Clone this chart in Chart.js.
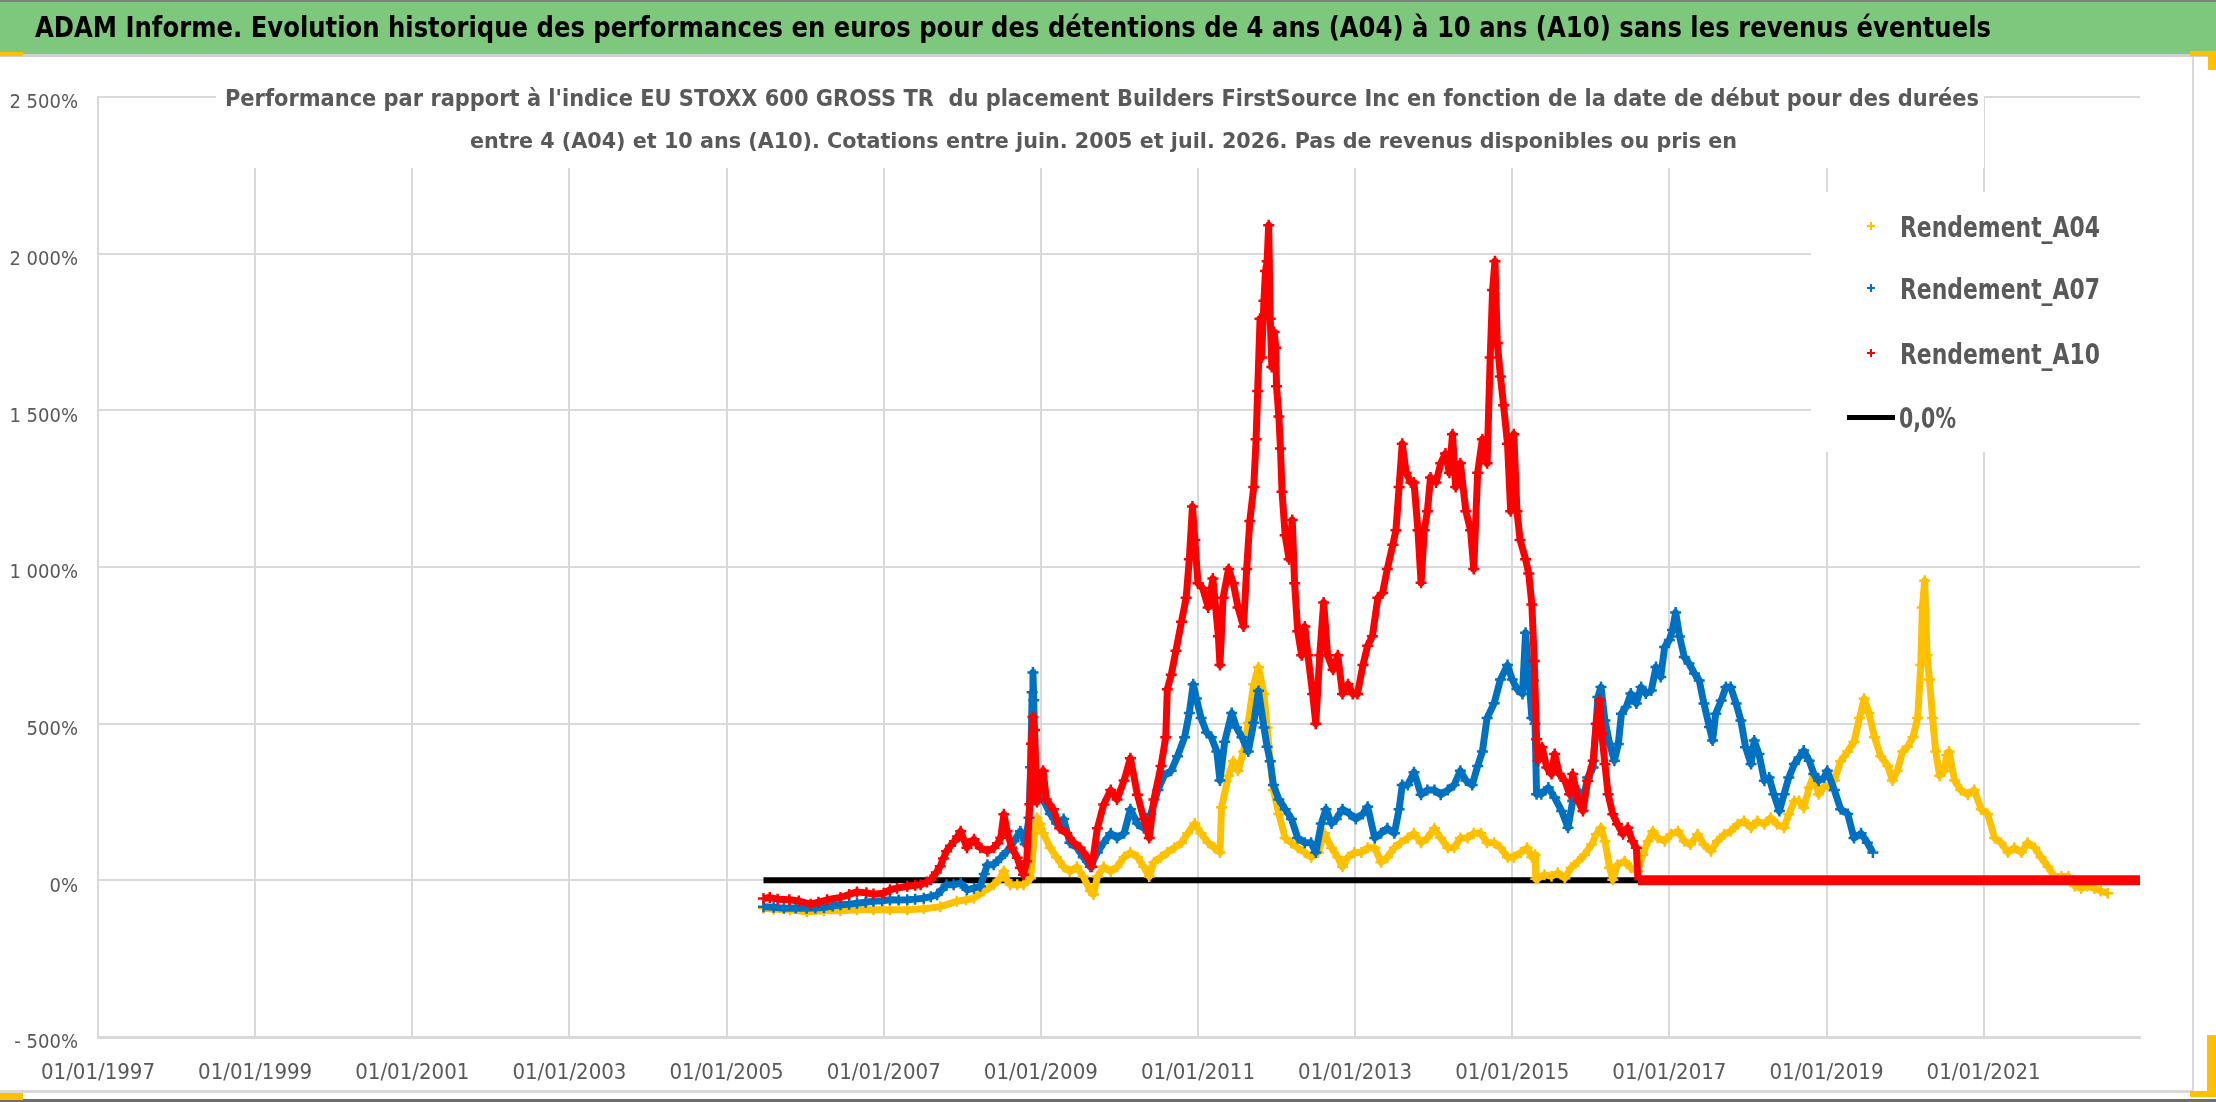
<!DOCTYPE html>
<html lang="fr">
<head>
<meta charset="UTF-8">
<title>ADAM Informe - Builders FirstSource Inc</title>
<script src="https://cdn.jsdelivr.net/npm/chart.js"></script>
<style>
  html, body { margin: 0; padding: 0; background: #fff; }
  .wrap { width: 2216px; height: 1102px; }
</style>
</head>
<body>
<div class="wrap"><canvas id="perfChart" width="2216" height="1102"></canvas></div>

<script>
  const titleText = "ADAM Informe. Evolution historique des performances en euros pour des détentions de 4 ans (A04) à 10 ans (A10) sans les revenus éventuels";
  const subtitleLines = [
    "Performance par rapport à l'indice EU STOXX 600 GROSS TR  du placement Builders FirstSource Inc en fonction de la date de début pour des durées",
    "entre 4 (A04) et 10 ans (A10). Cotations entre juin. 2005 et juil. 2026. Pas de revenus disponibles ou pris en"
  ];
  const seriesNames = ['Rendement_A04', 'Rendement_A07', 'Rendement_A10', '0,0%'];

  // x axis : date de début (années décimales), ticks tous les 2 ans
  const xTickYears = [1997, 1999, 2001, 2003, 2005, 2007, 2009, 2011, 2013, 2015, 2017, 2019, 2021];
  const xTickLabels = ['01/01/1997', '01/01/1999', '01/01/2001', '01/01/2003', '01/01/2005', '01/01/2007',
    '01/01/2009', '01/01/2011', '01/01/2013', '01/01/2015', '01/01/2017', '01/01/2019', '01/01/2021'];
  const yTickValues = [-500, 0, 500, 1000, 1500, 2000, 2500];
  const yTickLabels = ['- 500%', '0%', '500%', '1 000%', '1 500%', '2 000%', '2 500%'];

  // [date de début, performance %]
  const a04 = [[2005.47,-89],[2005.6,-92],[2005.81,-94],[2006.02,-100],[2006.24,-97],[2006.45,-97],[2006.66,-94],[2006.87,-94],
    [2007.08,-94],[2007.3,-94],[2007.51,-91],[2007.72,-84],[2007.93,-67],[2008.05,-62],[2008.15,-57],[2008.27,-35],[2008.4,-14],
    [2008.48,5],[2008.53,30],[2008.57,0],[2008.61,-14],[2008.7,-14],[2008.78,-14],[2008.87,7],[2008.92,150],[2008.95,200],
    [2008.99,180],[2009.03,150],[2009.12,104],[2009.2,74],[2009.29,43],[2009.37,28],[2009.46,43],[2009.54,12],[2009.63,-34],
    [2009.67,-45],[2009.72,12],[2009.8,43],[2009.89,28],[2009.97,43],[2010.06,74],[2010.14,89],[2010.23,74],[2010.31,43],
    [2010.38,12],[2010.44,58],[2010.53,74],[2010.61,89],[2010.7,104],[2010.79,120],[2010.87,150],[2010.96,181],[2011.04,150],
    [2011.13,120],[2011.21,104],[2011.28,89],[2011.3,233],[2011.39,334],[2011.45,380],[2011.51,350],[2011.58,411],[2011.64,503],
    [2011.71,626],[2011.77,680],[2011.84,595],[2011.88,488],[2011.92,380],[2011.96,288],[2012.03,212],[2012.11,135],[2012.19,120],
    [2012.27,104],[2012.36,89],[2012.44,74],[2012.53,89],[2012.61,150],[2012.7,104],[2012.78,74],[2012.84,43],[2012.91,74],
    [2012.99,89],[2013.08,89],[2013.16,104],[2013.25,104],[2013.33,58],[2013.41,74],[2013.5,104],[2013.58,120],[2013.67,135],
    [2013.75,150],[2013.84,120],[2013.92,135],[2014.01,166],[2014.09,135],[2014.18,104],[2014.26,104],[2014.34,135],[2014.43,135],
    [2014.51,150],[2014.6,150],[2014.68,120],[2014.77,120],[2014.85,104],[2014.94,74],[2015.02,74],[2015.11,89],[2015.19,104],
    [2015.25,74],[2015.29,82],[2015.3,5],[2015.33,7],[2015.41,18],[2015.5,13],[2015.58,24],[2015.67,7],[2015.75,40],[2015.84,61],
    [2015.92,82],[2016.01,114],[2016.07,147],[2016.13,168],[2016.18,125],[2016.24,40],[2016.28,2],[2016.34,50],[2016.43,61],
    [2016.51,40],[2016.6,29],[2016.66,82],[2016.73,125],[2016.79,157],[2016.85,136],[2016.94,125],[2017.02,147],[2017.11,157],
    [2017.19,125],[2017.27,114],[2017.36,147],[2017.44,114],[2017.53,93],[2017.61,125],[2017.7,147],[2017.78,157],[2017.87,179],
    [2017.95,189],[2018.04,168],[2018.12,189],[2018.21,179],[2018.29,200],[2018.37,179],[2018.46,168],[2018.52,211],[2018.59,253],
    [2018.65,253],[2018.71,232],[2018.78,296],[2018.84,339],[2018.9,275],[2018.97,300],[2019.03,300],[2019.1,319],[2019.18,380],
    [2019.27,411],[2019.35,442],[2019.42,518],[2019.48,580],[2019.54,534],[2019.61,457],[2019.69,396],[2019.78,365],[2019.84,319],
    [2019.9,350],[2019.97,411],[2020.03,426],[2020.1,457],[2020.16,518],[2020.2,687],[2020.22,871],[2020.25,956],[2020.28,718],
    [2020.31,641],[2020.35,518],[2020.39,411],[2020.44,334],[2020.5,350],[2020.53,400],[2020.56,411],[2020.63,319],[2020.71,288],
    [2020.8,273],[2020.88,288],[2020.97,227],[2021.05,212],[2021.14,135],[2021.22,120],[2021.31,89],[2021.39,104],[2021.48,89],
    [2021.56,120],[2021.65,104],[2021.73,74],[2021.82,43],[2021.9,12],[2021.99,12],[2022.08,12],[2022.16,-18],[2022.24,-26],
    [2022.32,-18],[2022.41,-26],[2022.49,-34],[2022.58,-41]];

  const a07 = [[2005.47,-84],[2005.6,-86],[2005.73,-89],[2005.88,-88],[2006.02,-89],[2006.13,-88],[2006.24,-87],[2006.35,-82],
    [2006.45,-78],[2006.56,-76],[2006.66,-73],[2006.77,-70],[2006.87,-67],[2006.98,-65],[2007.08,-62],[2007.19,-63],[2007.3,-62],
    [2007.4,-60],[2007.51,-57],[2007.6,-52],[2007.68,-46],[2007.74,-30],[2007.8,-14],[2007.89,-14],[2007.98,-9],[2008.06,-30],
    [2008.15,-25],[2008.23,-19],[2008.28,20],[2008.32,50],[2008.4,50],[2008.49,72],[2008.57,93],[2008.66,125],[2008.74,157],
    [2008.8,115],[2008.85,200],[2008.87,361],[2008.89,600],[2008.9,663],[2008.91,575],[2008.93,350],[2008.97,288],[2009.03,258],
    [2009.12,212],[2009.2,181],[2009.29,196],[2009.37,120],[2009.46,104],[2009.54,74],[2009.63,43],[2009.72,89],[2009.8,120],
    [2009.89,150],[2009.97,135],[2010.06,150],[2010.14,227],[2010.23,181],[2010.31,166],[2010.4,212],[2010.49,288],[2010.57,334],
    [2010.66,350],[2010.74,396],[2010.83,457],[2010.89,534],[2010.94,626],[2010.98,580],[2011.04,518],[2011.11,472],[2011.17,457],
    [2011.24,411],[2011.28,319],[2011.34,442],[2011.43,534],[2011.49,488],[2011.56,457],[2011.64,411],[2011.71,503],[2011.77,605],
    [2011.84,488],[2011.88,426],[2011.92,380],[2011.96,304],[2012.03,258],[2012.11,227],[2012.19,196],[2012.27,135],[2012.36,120],
    [2012.44,120],[2012.5,89],[2012.57,181],[2012.63,227],[2012.7,181],[2012.76,196],[2012.84,227],[2012.93,212],[2013.01,196],
    [2013.1,212],[2013.16,235],[2013.25,135],[2013.33,150],[2013.41,166],[2013.5,150],[2013.56,227],[2013.6,304],[2013.67,304],
    [2013.75,345],[2013.84,273],[2013.92,288],[2014.01,288],[2014.09,273],[2014.18,288],[2014.26,304],[2014.34,350],[2014.41,319],
    [2014.49,304],[2014.56,365],[2014.62,411],[2014.68,518],[2014.77,565],[2014.85,641],[2014.94,687],[2015.0,641],[2015.06,611],
    [2015.13,595],[2015.17,790],[2015.21,656],[2015.25,518],[2015.27,638],[2015.29,500],[2015.31,275],[2015.37,275],[2015.46,296],
    [2015.54,264],[2015.63,221],[2015.71,168],[2015.77,253],[2015.84,286],[2015.9,253],[2015.96,328],[2016.03,360],[2016.09,585],
    [2016.13,617],[2016.18,510],[2016.24,435],[2016.3,382],[2016.35,435],[2016.39,532],[2016.45,553],[2016.51,596],[2016.58,564],
    [2016.64,617],[2016.7,596],[2016.77,606],[2016.83,681],[2016.89,649],[2016.94,745],[2017.0,767],[2017.04,799],[2017.08,855],
    [2017.13,778],[2017.19,713],[2017.25,692],[2017.32,660],[2017.38,638],[2017.44,564],[2017.51,489],[2017.55,446],[2017.59,532],
    [2017.66,574],[2017.72,617],[2017.78,617],[2017.85,564],[2017.91,510],[2017.97,425],[2018.04,371],[2018.08,446],[2018.14,403],
    [2018.21,318],[2018.27,328],[2018.33,275],[2018.4,221],[2018.46,275],[2018.52,328],[2018.59,371],[2018.65,392],[2018.71,414],
    [2018.78,382],[2018.84,339],[2018.9,318],[2018.97,328],[2019.01,350],[2019.1,288],[2019.18,227],[2019.27,212],[2019.35,135],
    [2019.44,150],[2019.52,120],[2019.59,89]];

  const a10 = [[2005.47,-58],[2005.55,-55],[2005.65,-60],[2005.8,-62],[2005.92,-66],[2006.07,-76],[2006.17,-70],[2006.28,-62],
    [2006.45,-55],[2006.56,-45],[2006.66,-37],[2006.78,-40],[2006.87,-44],[2007.0,-41],[2007.08,-30],[2007.17,-25],[2007.3,-19],
    [2007.4,-16],[2007.47,-14],[2007.55,-5],[2007.6,2],[2007.67,25],[2007.72,45],[2007.76,70],[2007.8,93],[2007.85,110],
    [2007.9,125],[2007.94,140],[2007.98,157],[2008.02,130],[2008.06,104],[2008.1,118],[2008.15,131],[2008.19,115],[2008.23,104],
    [2008.32,93],[2008.4,104],[2008.45,118],[2008.49,136],[2008.53,211],[2008.57,157],[2008.63,104],[2008.7,72],[2008.74,40],
    [2008.78,18],[2008.82,61],[2008.86,243],[2008.88,436],[2008.9,521],[2008.92,480],[2008.95,250],[2008.99,320],[2009.03,350],
    [2009.07,258],[2009.16,227],[2009.24,166],[2009.33,150],[2009.42,120],[2009.5,104],[2009.59,74],[2009.65,43],[2009.72,166],
    [2009.8,242],[2009.89,288],[2009.97,258],[2010.06,319],[2010.14,390],[2010.23,273],[2010.31,196],[2010.38,135],[2010.44,258],
    [2010.53,365],[2010.59,457],[2010.61,610],[2010.66,656],[2010.72,733],[2010.79,825],[2010.85,902],[2010.89,1025],[2010.93,1193],
    [2010.96,1086],[2011.0,948],[2011.06,933],[2011.13,871],[2011.19,963],[2011.26,779],[2011.28,687],[2011.32,902],[2011.39,994],
    [2011.45,948],[2011.51,871],[2011.58,810],[2011.62,994],[2011.66,1147],[2011.71,1255],[2011.74,1408],[2011.76,1562],
    [2011.79,1792],[2011.81,1669],[2011.84,1850],[2011.86,1945],[2011.88,1976],[2011.9,2091],[2011.92,1792],[2011.94,1638],
    [2011.97,1750],[2011.99,1700],[2012.0,1577],[2012.03,1480],[2012.05,1378],[2012.07,1240],[2012.11,1101],[2012.16,1025],
    [2012.2,1150],[2012.23,948],[2012.27,795],[2012.32,718],[2012.36,810],[2012.4,718],[2012.46,595],[2012.5,500],[2012.55,718],
    [2012.6,887],[2012.65,718],[2012.72,672],[2012.78,718],[2012.84,595],[2012.91,626],[2012.97,595],[2013.03,595],[2013.1,687],
    [2013.16,749],[2013.22,779],[2013.29,902],[2013.35,917],[2013.41,994],[2013.48,1071],[2013.52,1117],[2013.56,1255],
    [2013.6,1393],[2013.65,1301],[2013.71,1270],[2013.75,1270],[2013.8,1117],[2013.84,950],[2013.88,1117],[2013.92,1178],
    [2013.96,1286],[2014.03,1270],[2014.09,1331],[2014.15,1362],[2014.2,1301],[2014.24,1424],[2014.28,1255],[2014.34,1331],
    [2014.41,1178],[2014.47,1117],[2014.51,994],[2014.56,1301],[2014.62,1408],[2014.68,1331],[2014.72,1669],[2014.75,1884],
    [2014.78,1976],[2014.81,1715],[2014.85,1608],[2014.89,1516],[2014.94,1393],[2014.98,1178],[2015.02,1424],[2015.06,1178],
    [2015.1,1086],[2015.17,1025],[2015.21,979],[2015.25,880],[2015.28,700],[2015.31,450],[2015.33,382],[2015.38,425],[2015.44,360],
    [2015.5,339],[2015.54,403],[2015.6,339],[2015.67,318],[2015.73,275],[2015.77,339],[2015.84,253],[2015.9,221],[2015.96,318],
    [2016.03,382],[2016.07,500],[2016.11,575],[2016.14,467],[2016.18,371],[2016.22,275],[2016.28,211],[2016.34,179],[2016.41,147],
    [2016.47,168],[2016.53,125],[2016.58,104],
    [2016.6,0],[2017.5,0],[2018.5,0],[2019.5,0],[2020.5,0],[2021.5,0],[2022.5,0],[2022.99,0]];

  const zeroLine = [[2005.47,0],[2022.99,0]];

  const colA04 = '#ffc000', colA07 = '#0070c0', colA10 = '#ff0000', colZero = '#000000';
  const textGrey = '#595959';
  const narrowFont = "'Liberation Sans Narrow', 'DejaVu Sans Condensed', 'Liberation Sans', sans-serif";

  // draws text stretched to a measured box (left, baseline, width, cap height)
  function fitText(ctx, text, left, baseline, width, capH, weight, family, color) {
    ctx.save();
    ctx.font = weight + ' ' + (capH / 0.72).toFixed(1) + 'px ' + family;
    ctx.fillStyle = color;
    ctx.textAlign = 'left';
    ctx.textBaseline = 'alphabetic';
    const w = ctx.measureText(text).width;
    ctx.translate(left, baseline);
    ctx.scale(width / w, 1);
    ctx.fillText(text, 0, 0);
    ctx.restore();
  }

  function crossMark(ctx, x, y, r, color) {
    ctx.strokeStyle = color;
    ctx.lineWidth = 2;
    ctx.beginPath();
    ctx.moveTo(x - r, y); ctx.lineTo(x + r, y);
    ctx.moveTo(x, y - r); ctx.lineTo(x, y + r);
    ctx.stroke();
  }

  const frameDecor = {
    id: 'frameDecor',
    beforeDraw(chart) {
      const ctx = chart.ctx;
      const W = chart.width;
      ctx.save();
      ctx.fillStyle = '#ffffff';
      ctx.fillRect(0, 0, W, chart.height);
      // bandeau vert du titre
      ctx.fillStyle = '#7dc87d';
      ctx.fillRect(0, 0, W, 54);
      ctx.fillStyle = '#7f7f7f';
      ctx.fillRect(0, 0, W, 2);
      ctx.fillStyle = '#d0d0d0';
      ctx.fillRect(0, 54, W, 3);
      // cadre du graphique
      ctx.fillStyle = '#d9d9d9';
      ctx.fillRect(2192, 57, 2, 1034);
      ctx.fillRect(0, 1090, 2194, 3);
      ctx.fillStyle = '#6e6e6e';
      ctx.fillRect(0, 1099, W, 3);
      // poignees de selection
      ctx.fillStyle = '#ffc000';
      ctx.fillRect(0, 52, 23, 4);
      ctx.fillRect(2190, 51, 26, 5);
      ctx.fillRect(2208, 51, 8, 19);
      ctx.fillRect(2207, 1035, 9, 60);
      ctx.fillRect(2190, 1091, 26, 6);
      ctx.fillRect(0, 1093, 23, 7);
      ctx.restore();
      fitText(ctx, titleText, 35, 37, 1956, 20, 'bold', narrowFont, '#000000');
    },
    afterDraw(chart) {
      const ctx = chart.ctx;
      ctx.save();
      // sous-titre sur fond blanc
      ctx.fillStyle = '#ffffff';
      ctx.fillRect(216, 78, 1768, 90);
      fitText(ctx, subtitleLines[0], 225, 106, 1754, 16, 'bold', narrowFont, textGrey);
      fitText(ctx, subtitleLines[1], 470, 148, 1267, 15.5, 'bold', narrowFont, textGrey);
      // legende
      ctx.fillStyle = '#ffffff';
      ctx.fillRect(1811, 192, 340, 260);
      const rows = [226, 288, 353];
      const cols = [colA04, colA07, colA10];
      rows.forEach((y, i) => {
        crossMark(ctx, 1871, y, 4, cols[i]);
        fitText(ctx, seriesNames[i], 1900, y + 11, 200, 21, 'bold', "'DejaVu Sans', sans-serif", textGrey);
      });
      ctx.fillStyle = colZero;
      ctx.fillRect(1847, 415, 48, 5);
      fitText(ctx, seriesNames[3], 1899, 428, 57, 21, 'bold', "'DejaVu Sans', sans-serif", textGrey);
      ctx.restore();
    }
  };

  function toPoints(arr) {
    return arr.map(p => ({ x: p[0], y: p[1] }));
  }

  function perfSeries(label, arr, color, order) {
    return {
      label: label,
      data: toPoints(arr),
      showLine: true,
      borderColor: color,
      backgroundColor: color,
      borderWidth: 7,
      tension: 0,
      borderJoinStyle: 'round',
      pointStyle: 'cross',
      pointRadius: ctx => (ctx.raw && ctx.raw.y === 0 && ctx.raw.x > 2016.59) ? 0 : 5.5,
      pointBorderColor: color,
      pointBorderWidth: 2.5,
      segment: {
        borderWidth: s => (s.p0.parsed.y === 0 && s.p1.parsed.y === 0) ? 10 : 7
      },
      order: order
    };
  }

  const ctx = document.getElementById('perfChart').getContext('2d');
  const perfChart = new Chart(ctx, {
    type: 'scatter',
    data: {
      datasets: [
        perfSeries(seriesNames[0], a04, colA04, 2),
        perfSeries(seriesNames[1], a07, colA07, 1),
        perfSeries(seriesNames[2], a10, colA10, 0),
        {
          label: seriesNames[3],
          data: toPoints(zeroLine),
          showLine: true,
          borderColor: colZero,
          borderWidth: 6,
          pointRadius: 0,
          order: 3
        }
      ]
    },
    options: {
      responsive: false,
      animation: false,
      layout: { padding: { top: 97, right: 76, bottom: 0, left: 0 } },
      plugins: {
        legend: { display: false },
        title: { display: false },
        tooltip: { enabled: false }
      },
      scales: {
        x: {
          type: 'linear',
          min: 1997,
          max: 2022.99,
          afterBuildTicks: s => { s.ticks = xTickYears.map(v => ({ value: v })); },
          afterFit: s => { s.height = 65; },
          ticks: {
            autoSkip: false,
            maxRotation: 0,
            padding: 23,
            color: textGrey,
            font: { family: narrowFont, size: 22 },
            callback: v => xTickLabels[xTickYears.indexOf(v)] || ''
          },
          grid: { color: '#d9d9d9', lineWidth: 2, drawTicks: false },
          border: { color: '#d9d9d9', width: 3 }
        },
        y: {
          min: -500,
          max: 2500,
          afterBuildTicks: s => { s.ticks = yTickValues.map(v => ({ value: v })); },
          afterFit: s => { s.width = 98; },
          ticks: {
            padding: 20,
            labelOffset: 6,
            color: textGrey,
            font: { family: narrowFont, size: 20 },
            callback: v => yTickLabels[yTickValues.indexOf(v)] || ''
          },
          grid: { color: '#d9d9d9', lineWidth: 2, drawTicks: false },
          border: { color: '#d9d9d9', width: 2 }
        }
      }
    },
    plugins: [frameDecor]
  });
</script>
</body>
</html>
